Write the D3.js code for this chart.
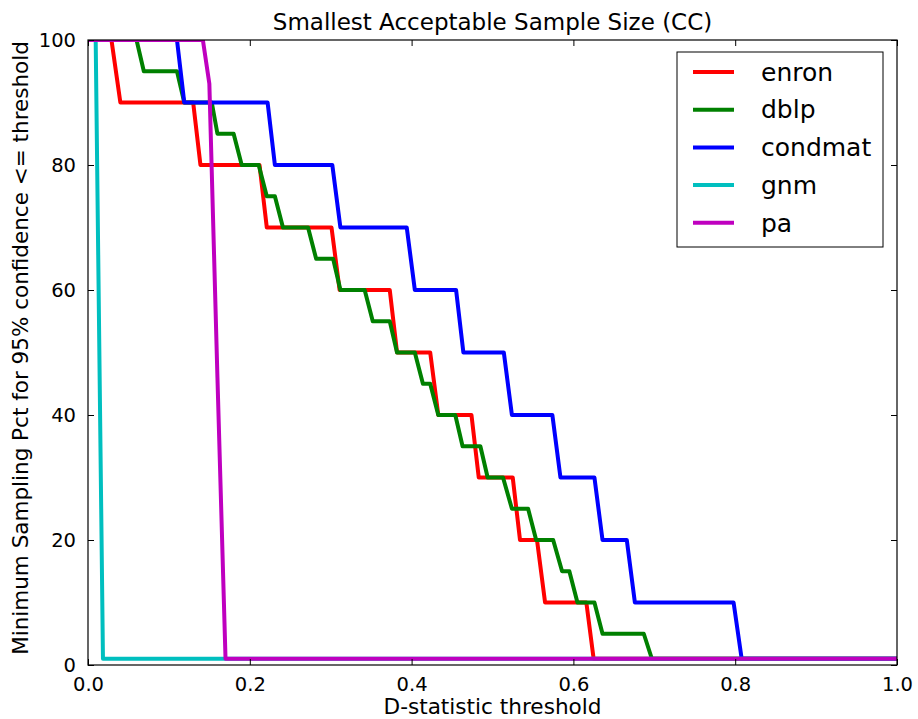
<!DOCTYPE html>
<html>
<head>
<meta charset="utf-8">
<script src="https://cdn.jsdelivr.net/npm/d3@7"></script>
<style>
  body { margin: 0; background: #fff; }
  svg { font-family: "DejaVu Sans", sans-serif; }
</style>
</head>
<body>
<div id="chart"></div>
<script>
// Series vertices (x = D-statistic threshold, y = pct)
const seriesNames = ["enron", "dblp", "condmat", "gnm", "pa"];
const seriesColors = ["#ff0000", "#008000", "#0000ff", "#00bfbf", "#bf00bf"];

const enronX = [0, 0.029, 0.040, 0.130, 0.139, 0.212, 0.221, 0.301, 0.311, 0.373, 0.382, 0.423, 0.433, 0.474, 0.483, 0.525, 0.534, 0.555, 0.565, 0.616, 0.625, 1.0];
const enronY = [100, 100, 90, 90, 80, 80, 70, 70, 60, 60, 50, 50, 40, 40, 30, 30, 20, 20, 10, 10, 1, 1];

const dblpX = [0, 0.060, 0.069, 0.110, 0.119, 0.153, 0.160, 0.180, 0.190, 0.211, 0.221, 0.231, 0.241, 0.272, 0.282, 0.303, 0.312, 0.342, 0.352, 0.373, 0.382, 0.404, 0.414, 0.423, 0.433, 0.454, 0.463, 0.485, 0.494, 0.513, 0.524, 0.544, 0.554, 0.575, 0.586, 0.595, 0.605, 0.626, 0.636, 0.687, 0.697, 1.0];
const dblpY = [100, 100, 95, 95, 90, 90, 85, 85, 80, 80, 75, 75, 70, 70, 65, 65, 60, 60, 55, 55, 50, 50, 45, 45, 40, 40, 35, 35, 30, 30, 25, 25, 20, 20, 15, 15, 10, 10, 5, 5, 1, 1];

const condmatX = [0, 0.110, 0.119, 0.222, 0.231, 0.302, 0.312, 0.394, 0.404, 0.455, 0.464, 0.514, 0.524, 0.574, 0.584, 0.626, 0.636, 0.666, 0.676, 0.798, 0.808, 1.0];
const condmatY = [100, 100, 90, 90, 80, 80, 70, 70, 60, 60, 50, 50, 40, 40, 30, 30, 20, 20, 10, 10, 1, 1];

const gnmX = [0, 0.0095, 0.0185, 1.0];
const gnmY = [100, 100, 1, 1];

const paX = [0, 0.142, 0.150, 0.160, 0.170, 1.0];
const paY = [100, 100, 93, 46, 1, 1];

const xTicks = [0, 0.2, 0.4, 0.6, 0.8, 1.0];
const yTicks = [0, 20, 40, 60, 80, 100];

const seriesX = [enronX, dblpX, condmatX, gnmX, paX];
const seriesY = [enronY, dblpY, condmatY, gnmY, paY];

// Layout
const margin = { top: 40, right: 21, bottom: 54, left: 88 };
const width = 918 - margin.left - margin.right;
const height = 719 - margin.top - margin.bottom;

const svg = d3.select("#chart")
    .append("svg")
    .attr("width", 918)
    .attr("height", 719);

const g = svg.append("g")
    .attr("transform", `translate(${margin.left},${margin.top})`);

const x = d3.scaleLinear().domain([0, 1]).range([0, width]);
const y = d3.scaleLinear().domain([0, 100]).range([height, 0]);

// Clip lines to the axes box
g.append("clipPath").attr("id", "clip")
    .append("rect").attr("width", width).attr("height", height);

const line = d3.line()
    .x(d => x(d[0]))
    .y(d => y(d[1]));

const lines = g.append("g").attr("clip-path", "url(#clip)");
seriesNames.forEach((name, i) => {
    const pts = seriesX[i].map((v, j) => [v, seriesY[i][j]]);
    lines.append("path")
        .datum(pts)
        .attr("fill", "none")
        .attr("stroke", seriesColors[i])
        .attr("stroke-width", 4)
        .attr("stroke-linejoin", "round")
        .attr("d", line);
});

// Axes (ticks pointing inward, on all four sides)
const tickLen = 6;
g.append("g")
    .attr("transform", `translate(0,${height})`)
    .call(d3.axisBottom(x).tickValues(xTicks).tickFormat(d3.format(".1f")).tickSizeInner(-tickLen).tickSizeOuter(0).tickPadding(12));
g.append("g")
    .call(d3.axisTop(x).tickValues(xTicks).tickFormat("").tickSizeInner(-tickLen).tickSizeOuter(0));
g.append("g")
    .call(d3.axisLeft(y).tickValues(yTicks).tickSizeInner(-tickLen).tickSizeOuter(0).tickPadding(12));
g.append("g")
    .attr("transform", `translate(${width},0)`)
    .call(d3.axisRight(y).tickValues(yTicks).tickFormat("").tickSizeInner(-tickLen).tickSizeOuter(0));

g.selectAll(".domain").remove();
g.selectAll(".tick line").attr("stroke", "#000").attr("stroke-width", 1);
g.selectAll(".tick text").attr("fill", "#000").style("font-size", "19.5px")
    .style("font-family", "'DejaVu Sans', sans-serif");

// Frame
g.append("rect")
    .attr("width", width)
    .attr("height", height)
    .attr("fill", "none")
    .attr("stroke", "#000")
    .attr("stroke-width", 1.2);

// Title and axis labels
svg.append("text")
    .attr("x", margin.left + width / 2)
    .attr("y", 30)
    .attr("text-anchor", "middle")
    .style("font-size", "23px")
    .text("Smallest Acceptable Sample Size (CC)");

svg.append("text")
    .attr("x", margin.left + width / 2)
    .attr("y", 714)
    .attr("text-anchor", "middle")
    .style("font-size", "21.6px")
    .text("D-statistic threshold");

svg.append("text")
    .attr("transform", "translate(28,348) rotate(-90)")
    .attr("text-anchor", "middle")
    .style("font-size", "21.5px")
    .text("Minimum Sampling Pct for 95% confidence <= threshold");

// Legend
const legend = svg.append("g").attr("transform", "translate(677,52)");
legend.append("rect")
    .attr("width", 206)
    .attr("height", 195)
    .attr("fill", "#fff")
    .attr("stroke", "#000")
    .attr("stroke-width", 1);

seriesNames.forEach((name, i) => {
    const row = legend.append("g").attr("transform", `translate(0,${20 + i * 37.7})`);
    row.append("line")
        .attr("x1", 16).attr("x2", 57)
        .attr("stroke", seriesColors[i])
        .attr("stroke-width", 4);
    row.append("text")
        .attr("x", 84)
        .attr("dy", "0.35em")
        .style("font-size", "25px")
        .text(name);
});
</script>
</body>
</html>
